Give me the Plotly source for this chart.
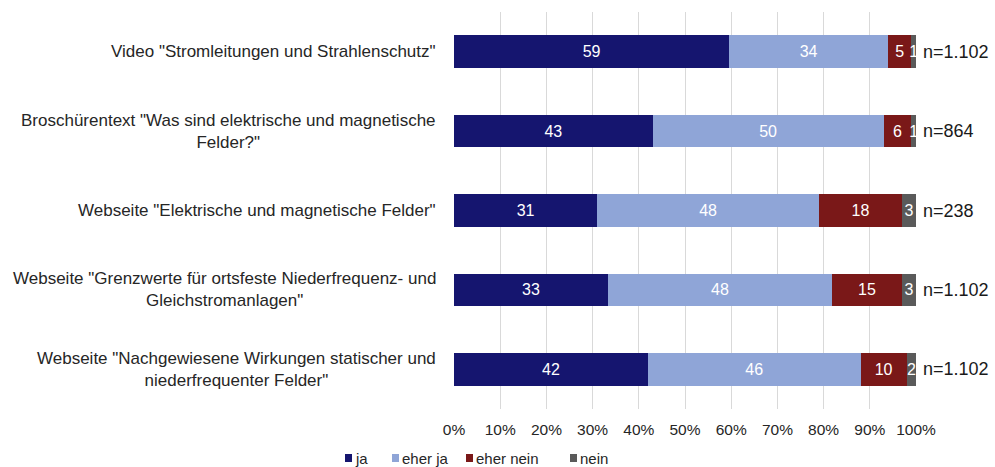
import plotly.graph_objects as go

# Survey items (top to bottom) and sample sizes
categories = [
    'Video "Stromleitungen und Strahlenschutz"',
    'Broschürentext "Was sind elektrische und magnetische<br>Felder?"',
    'Webseite "Elektrische und magnetische Felder"',
    'Webseite "Grenzwerte für ortsfeste Niederfrequenz- und<br>Gleichstromanlagen"',
    'Webseite "Nachgewiesene Wirkungen statischer und<br>niederfrequenter Felder"',
]
n_labels = ["n=1.102", "n=864", "n=238", "n=1.102", "n=1.102"]

# Answer shares in percent
series_names = ["ja", "eher ja", "eher nein", "nein"]
ja = [59, 43, 31, 33, 42]
eher_ja = [34, 50, 48, 48, 46]
eher_nein = [5, 6, 18, 15, 10]
nein = [1, 1, 3, 3, 2]
series_values = [ja, eher_ja, eher_nein, nein]

x_ticks = list(range(0, 101, 10))

colors = ["#15156f", "#8fa5d7", "#7a1818", "#5a5a5a"]
FONT = "Liberation Sans, Arial, sans-serif"

# plot-area geometry (pixels)
W, H = 995, 467
ML, MR, MT, MB = 454, 79, 12, 58
PW, PH = W - ML - MR, H - MT - MB


def px_x(px):
    return (px - ML) / PW


def px_y(py):
    return (MT + PH - py) / PH


fig = go.Figure()
for name, vals, col in zip(series_names, series_values, colors):
    fig.add_trace(go.Bar(
        y=categories, x=vals, name=name, orientation="h",
        marker=dict(color=col, line=dict(width=0)),
        text=[str(v) for v in vals],
        textposition="inside", insidetextanchor="middle",
        textangle=0, constraintext="none",
        textfont=dict(color="white", size=16, family=FONT),
        hoverinfo="skip", showlegend=False,
    ))

annotations = []
shapes = []
# Category labels, right-aligned block with centred lines
for cat in categories:
    annotations.append(dict(
        x=0, xref="paper", y=cat, yref="y", text=cat,
        xanchor="right", yanchor="middle", align="center",
        xshift=-16, showarrow=False,
        font=dict(size=17, color="#262626", family=FONT),
    ))
# Sample sizes to the right of each bar
for cat, n in zip(categories, n_labels):
    annotations.append(dict(
        x=100, xref="x", y=cat, yref="y", text=n,
        xanchor="left", yanchor="middle", xshift=5, showarrow=False,
        font=dict(size=18, color="#1a1a1a", family=FONT),
    ))

# Compact legend row below the axis: colour square + series name
legend_px = [345, 392, 466, 570]
LEG_Y = 458
for name, col, px in zip(series_names, colors, legend_px):
    shapes.append(dict(
        type="rect", xref="paper", yref="paper",
        x0=px_x(px), x1=px_x(px + 7), y0=px_y(LEG_Y + 4), y1=px_y(LEG_Y - 4),
        fillcolor=col, line=dict(width=0),
    ))
    annotations.append(dict(
        x=px_x(px + 8), xref="paper", y=px_y(LEG_Y), yref="paper",
        text=name, xanchor="left", yanchor="middle", showarrow=False,
        font=dict(size=15, color="#262626", family=FONT),
    ))

fig.update_layout(
    barmode="stack", barnorm="percent", bargap=0.59,
    width=W, height=H,
    margin=dict(l=ML, r=MR, t=MT, b=MB),
    paper_bgcolor="white", plot_bgcolor="white",
    font=dict(family=FONT, size=15, color="#262626"),
    xaxis=dict(
        range=[0, 100], tickvals=x_ticks,
        ticktext=[f"{t}%" for t in x_ticks],
        showgrid=True, gridcolor="#d9d9d9", gridwidth=1,
        zeroline=False, showline=False,
        ticks="outside", ticklen=6, tickcolor="rgba(0,0,0,0)",
        tickfont=dict(size=15.5, color="#262626"),
        fixedrange=True,
    ),
    yaxis=dict(
        categoryorder="array", categoryarray=categories,
        autorange="reversed", showticklabels=False,
        showgrid=False, zeroline=False, showline=False, ticks="",
        fixedrange=True,
    ),
    annotations=annotations,
    shapes=shapes,
    showlegend=False,
)

fig.write_html("out.html")
